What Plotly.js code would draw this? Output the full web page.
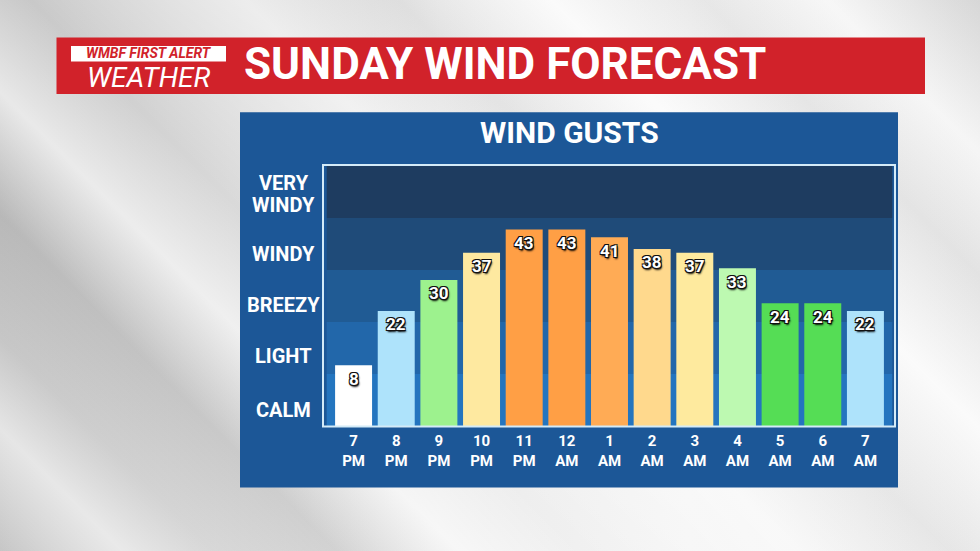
<!DOCTYPE html>
<html>
<head>
<meta charset="utf-8">
<script src="https://cdn.plot.ly/plotly-3.0.1.min.js"></script>
<style>
  html, body { margin: 0; padding: 0; }
  body {
    width: 980px; height: 551px; overflow: hidden;
    background:
      linear-gradient(45deg,
        rgba(255,255,255,0) 0%, rgba(255,255,255,0.55) 8%, rgba(255,255,255,0) 14%,
        rgba(0,0,0,0.07) 22%, rgba(255,255,255,0.6) 30%, rgba(255,255,255,0) 38%,
        rgba(255,255,255,0.5) 52%, rgba(0,0,0,0.04) 62%, rgba(255,255,255,0.7) 72%,
        rgba(0,0,0,0.05) 82%, rgba(255,255,255,0.4) 90%, rgba(0,0,0,0.1) 100%),
      linear-gradient(90deg, #c6c6c6 0%, #d6d6d6 20%, #ebebeb 45%, #f4f4f4 70%, #efefef 100%);
  }
  #chart { width: 980px; height: 551px; }
</style>
</head>
<body>
<div id="chart"></div>
<script>
// ---- data ----
const hours   = ['7', '8', '9', '10', '11', '12', '1', '2', '3', '4', '5', '6', '7'];
const periods = ['PM', 'PM', 'PM', 'PM', 'PM', 'AM', 'AM', 'AM', 'AM', 'AM', 'AM', 'AM', 'AM'];
const gusts   = [8, 22, 30, 37, 43, 43, 41, 38, 37, 33, 24, 24, 22];
const barColors = ['#ffffff', '#aee3fb', '#9df28e', '#fee9a0', '#ff9f45', '#ff9f45', '#ffab55',
                   '#ffd98d', '#feea9e', '#bdf9b1', '#55dd55', '#55dd55', '#aee3fb'];
const bandLabels = ['CALM', 'LIGHT', 'BREEZY', 'WINDY', 'VERY<br>WINDY'];
const chartTitle = 'SUNDAY WIND FORECAST';
const panelTitle = 'WIND GUSTS';

// ---- layout geometry (pixels) ----
const FW = 980, FH = 551;
const M = { l: 325, r: 86, t: 166, b: 125 };
const PW = FW - M.l - M.r, PH = FH - M.t - M.b;
const px = x => (x - M.l) / PW;
const py = y => (FH - M.b - y) / PH;
const axisFloor = -7.7;

const cats = hours.map((h, i) => h + '<br>' + periods[i]);

const trace = {
  type: 'bar',
  x: cats,
  y: gusts.map(v => v - axisFloor),
  base: axisFloor,
  marker: { color: barColors, line: { width: 0 } },
  hoverinfo: 'skip'
};

const bandColors = ['#2475bf', '#2267aa', '#205b94', '#1f4b79', '#1e3c60'];
const shapes = [];
shapes.push({ type: 'rect', xref: 'paper', yref: 'paper', layer: 'below',
  x0: px(240), x1: px(898), y0: py(487.5), y1: py(112.3),
  fillcolor: '#1c5797', line: { width: 0 } });
shapes.push({ type: 'rect', xref: 'paper', yref: 'paper', layer: 'below',
  x0: px(56.5), x1: px(925), y0: py(94), y1: py(37.5),
  fillcolor: '#d1222a', line: { width: 0 } });
shapes.push({ type: 'rect', xref: 'paper', yref: 'paper', layer: 'below',
  x0: px(71), x1: px(226), y0: py(61.5), y1: py(46),
  fillcolor: '#ffffff', line: { width: 0 } });
for (let i = 0; i < 5; i++) {
  shapes.push({ type: 'rect', xref: 'paper', yref: 'paper', layer: 'below',
    x0: 0.003, x1: 0.997, y0: i * 0.2, y1: (i + 1) * 0.2,
    fillcolor: bandColors[i], line: { width: 0 } });
}
shapes.push({ type: 'rect', xref: 'paper', yref: 'paper', layer: 'above',
  x0: px(323), x1: px(895), y0: py(426.5), y1: py(165),
  fillcolor: 'rgba(0,0,0,0)', line: { color: '#d4ebf8', width: 2 } });

const annotations = [];
// band labels
const labelY = [409.7, 356, 305.3, 254, 194];
const lineGap = 22;
bandLabels.forEach((t, i) => {
  const lines = t.split('<br>');
  lines.forEach((ln, k) => {
    annotations.push({
      text: ln, xref: 'paper', yref: 'paper', x: px(283.5),
      y: py(labelY[i] + (k - (lines.length - 1) / 2) * lineGap),
      xanchor: 'center', yanchor: 'middle', showarrow: false,
      font: { family: 'Roboto', size: 20, weight: 'bold', color: '#ffffff' }
    });
  });
});
// value labels on bars
gusts.forEach((v, i) => {
  annotations.push({
    text: String(v), x: cats[i], y: v, xref: 'x', yref: 'y',
    xanchor: 'center', yanchor: 'middle', yshift: -13.5, showarrow: false,
    font: { family: 'Roboto', size: 17, weight: 'bold', color: '#ffffff',
      shadow: '-1px -1px 0 #111, 1px -1px 0 #111, -1px 1px 0 #111, 1px 1px 0 #111, 1px 2px 2px #000' }
  });
});
annotations.push({
  text: panelTitle, xref: 'paper', yref: 'paper', x: px(569.5), y: py(132.5),
  xanchor: 'center', yanchor: 'middle', showarrow: false,
  font: { family: 'Roboto', size: 30, weight: 'bold', color: '#ffffff' }
});
annotations.push({
  text: chartTitle, xref: 'paper', yref: 'paper', x: px(242), y: py(64),
  xanchor: 'left', yanchor: 'middle', showarrow: false,
  font: { family: 'Roboto', size: 44, weight: 'bold', color: '#ffffff' }
});
annotations.push({
  text: '<i>WMBF FIRST ALERT</i>', xref: 'paper', yref: 'paper', x: px(148.5), y: py(53.3),
  xanchor: 'center', yanchor: 'middle', showarrow: false,
  font: { family: 'Roboto', size: 14, weight: 'bold', style: 'italic', color: '#d1222a' }
});
annotations.push({
  text: '<i>WEATHER</i>', xref: 'paper', yref: 'paper', x: px(148.5), y: py(77.8),
  xanchor: 'center', yanchor: 'middle', showarrow: false,
  font: { family: 'Roboto', size: 28, style: 'italic', color: '#ffffff' }
});

const layout = {
  width: FW, height: FH,
  margin: M,
  paper_bgcolor: 'rgba(0,0,0,0)',
  plot_bgcolor: 'rgba(0,0,0,0)',
  showlegend: false,
  bargap: 0.133,
  xaxis: {
    type: 'category', range: [-0.67, 12.67], fixedrange: true,
    showgrid: false, zeroline: false, showline: false, ticks: '',
    tickfont: { family: 'Roboto', size: 15, weight: 'bold', color: '#ffffff' },
    ticklabelstandoff: 4
  },
  yaxis: {
    range: [axisFloor, 59.4], fixedrange: true,
    showgrid: false, zeroline: false, showline: false, showticklabels: false, ticks: ''
  },
  shapes: shapes,
  annotations: annotations
};

Plotly.newPlot('chart', [trace], layout, { displayModeBar: false, staticPlot: true });
</script>
</body>
</html>
